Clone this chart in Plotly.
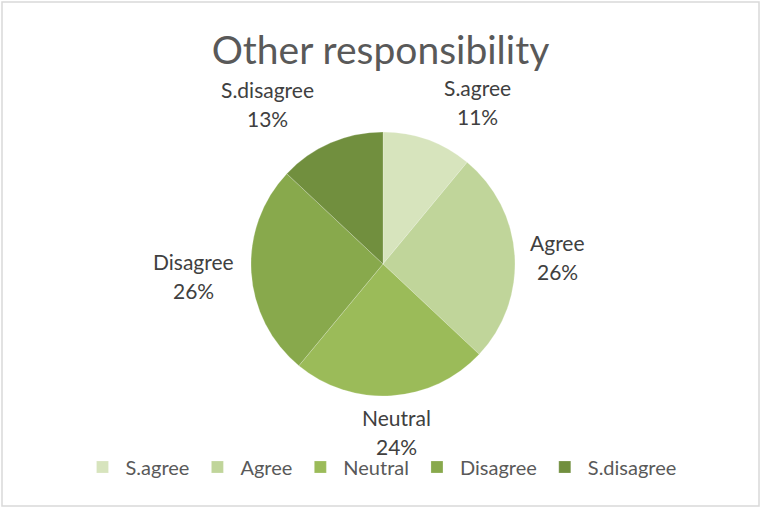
import plotly.graph_objects as go

# Survey responses for "Other responsibility"
categories = ["S.agree", "Agree", "Neutral", "Disagree", "S.disagree"]
shares = [11, 26, 24, 26, 13]
slice_colors = ["#D7E4BD", "#C0D59A", "#9BBB59", "#88A94C", "#718F3E"]

W, H = 761, 508
FONT = "Lato"

# label block centres in pixels (x, y) for each category
label_px = [(477, 102), (557, 257), (396, 432), (193, 276), (267, 104)]

cx, cy, r = 383, 264, 132

fig = go.Figure(
    go.Pie(
        labels=categories,
        values=shares,
        sort=False,
        direction="clockwise",
        rotation=0,
        marker=dict(colors=slice_colors, line=dict(color="rgba(255,255,255,0.35)", width=0.6)),
        textinfo="none",
        hoverinfo="label+percent",
        domain=dict(x=[(cx - r) / W, (cx + r) / W], y=[1 - (cy + r) / H, 1 - (cy - r) / H]),
    )
)

annotations = []
for cat, val, (px, py) in zip(categories, shares, label_px):
    for txt, dy in ((cat, -14.5), (f"{val}%", 14.5)):
        annotations.append(
            dict(
                x=px / W, y=1 - (py + dy) / H, xref="paper", yref="paper",
                text=txt, showarrow=False, xanchor="center", yanchor="middle",
                font=dict(family=FONT, size=21, color="#404040"),
            )
        )

fig.update_layout(
    width=W, height=H,
    margin=dict(l=0, r=0, t=0, b=0),
    paper_bgcolor="white",
    title=dict(
        text="Other responsibility",
        x=0.5, xanchor="center", y=1 - 50 / H, yanchor="middle",
        font=dict(family=FONT, size=39, color="#595959"),
    ),
    legend=dict(
        orientation="h", x=0.5, xanchor="center", y=1 - 467 / H, yanchor="middle",
        font=dict(family=FONT, size=20, color="#595959"),
        itemwidth=36, traceorder="normal",
    ),
    annotations=annotations,
    shapes=[
        dict(type="rect", xref="paper", yref="paper",
             x0=2 / W, x1=759 / W, y0=1 - 506 / H, y1=1 - 2 / H,
             line=dict(color="#D9D9D9", width=1.5), fillcolor="rgba(0,0,0,0)")
    ],
)

fig.write_html("out.html")
